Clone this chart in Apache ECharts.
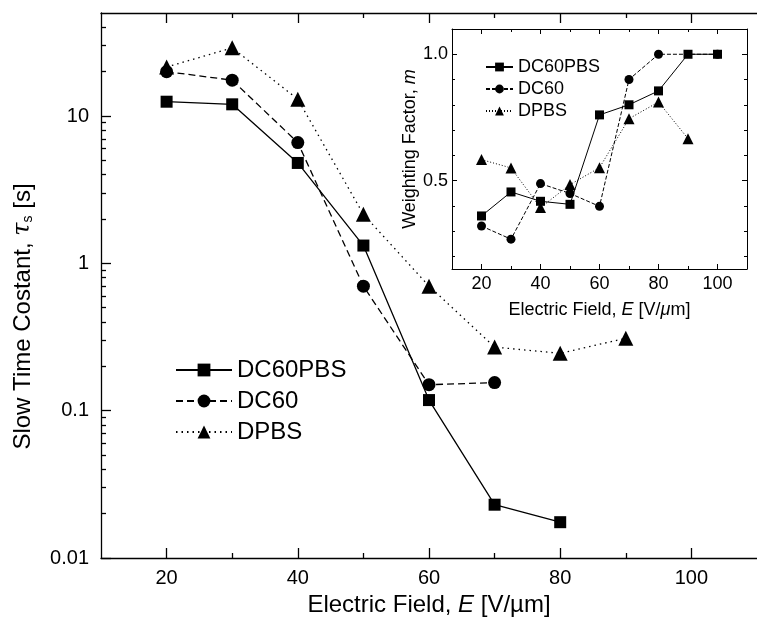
<!DOCTYPE html>
<html>
<head>
<meta charset="utf-8">
<script src="https://cdn.jsdelivr.net/npm/echarts@6/dist/echarts.min.js"></script>
<style>
  html, body { margin: 0; padding: 0; background: #fff; }
  #chart { width: 757px; height: 631px; }
</style>
</head>
<body>
<div id="chart"></div>
<script>
// main plot: slow time constant vs field
var fieldDC60PBS = [20, 30, 40, 50, 60, 70, 80];
var tauDC60PBS   = [12.5, 12, 4.8, 1.32, 0.118, 0.023, 0.0175];
var fieldDC60    = [20, 30, 40, 50, 60, 70];
var tauDC60      = [20, 17.5, 6.6, 0.7, 0.15, 0.155];
var fieldDPBS    = [20, 30, 40, 50, 60, 70, 80, 90];
var tauDPBS      = [21.5, 29, 13, 2.15, 0.7, 0.27, 0.245, 0.31];

// inset: weighting factor vs field
var insetFieldDC60PBS = [20, 30, 40, 50, 60, 70, 80, 90, 100];
var mDC60PBS          = [0.36, 0.455, 0.418, 0.406, 0.76, 0.80, 0.855, 1.0, 1.0];
var insetFieldDC60    = [20, 30, 40, 50, 60, 70, 80, 100];
var mDC60             = [0.32, 0.268, 0.488, 0.449, 0.398, 0.90, 1.0, 1.0];
var insetFieldDPBS    = [20, 30, 40, 50, 60, 70, 80, 90];
var mDPBS             = [0.583, 0.55, 0.393, 0.484, 0.551, 0.745, 0.811, 0.666];

// ticks
var xMajor = [20, 40, 60, 80, 100];
var xMinor = [30, 50, 70, 90];
var yMainMajor = [0.01, 0.1, 1, 10];
var yMainMinor = [0.02, 0.03, 0.04, 0.05, 0.06, 0.07, 0.08, 0.09,
                  0.2, 0.3, 0.4, 0.5, 0.6, 0.7, 0.8, 0.9,
                  2, 3, 4, 5, 6, 7, 8, 9, 20, 30, 40];
var yInsetMajor = [0.5, 1.0];
var yInsetMinor = [0.2, 0.3, 0.4, 0.6, 0.7, 0.8, 0.9];

var FONT = 'Liberation Sans';

function pairs(xs, ys) {
  return xs.map(function (x, i) { return [x, ys[i]]; });
}

function tickAxis(opt) {
  // one axis carrying only line/ticks (+ optional labels)
  var ax = {
    type: opt.type || 'value',
    gridIndex: opt.grid,
    position: opt.position,
    min: opt.min,
    max: opt.max,
    splitLine: { show: false },
    axisLine: { show: !!opt.line, onZero: false, lineStyle: { color: '#000', width: opt.lw } },
    axisTick: { show: true, inside: true, length: opt.len, customValues: opt.ticks,
                lineStyle: { color: '#000', width: opt.lw } },
    axisLabel: { show: false }
  };
  if (opt.labels) {
    ax.axisLabel = { show: true, customValues: opt.labels, color: '#000',
                     fontFamily: FONT, fontSize: opt.fs, margin: opt.margin,
                     formatter: opt.fmt };
  }
  return ax;
}

var chart = echarts.init(document.getElementById('chart'));

var xMainBottom = tickAxis({ grid: 0, position: 'bottom', min: 10, max: 110, line: true, lw: 1.3,
  len: 10, ticks: xMajor, labels: xMajor, fs: 20, margin: 10 });
xMainBottom.name = 'Electric Field, {i|E} [V/\u00b5m]';
xMainBottom.nameLocation = 'middle';
xMainBottom.nameGap = 34;
xMainBottom.nameTextStyle = { fontFamily: FONT, fontSize: 24, color: '#000',
  rich: { i: { fontFamily: FONT, fontSize: 24, fontStyle: 'italic', color: '#000' } } };

var yMainLeft = tickAxis({ type: 'log', grid: 0, position: 'left', min: 0.01, max: 50, line: true, lw: 1.3,
  len: 10, ticks: yMainMajor, labels: yMainMajor, fs: 20, margin: 12,
  fmt: function (v) { return { 0.01: '0.01', 0.1: '0.1', 1: '1', 10: '10' }[v] || ''; } });
yMainLeft.logBase = 10;
yMainLeft.name = 'Slow Time Costant, {t|\u03c4}{s|s} [s]';
yMainLeft.nameLocation = 'middle';
yMainLeft.nameGap = 66;
yMainLeft.nameTextStyle = { fontFamily: FONT, fontSize: 24, color: '#000', padding: [0, 62, 0, 0],
  rich: { t: { fontFamily: 'DejaVu Serif', fontSize: 24, fontStyle: 'italic', color: '#000' },
          s: { fontFamily: FONT, fontSize: 14, color: '#000', verticalAlign: 'bottom', padding: [10, 0, 0, 0] } } };

var yMainMinorAx = tickAxis({ type: 'log', grid: 0, position: 'left', min: 0.01, max: 50, lw: 1.3,
  len: 5, ticks: yMainMinor });
yMainMinorAx.logBase = 10;

var xInsetBottom = tickAxis({ grid: 1, position: 'bottom', min: 10, max: 110, line: true, lw: 1,
  len: 5, ticks: xMajor, labels: xMajor, fs: 18, margin: 6 });
xInsetBottom.name = 'Electric Field, {i|E} [V/{i|\u03bc}m]';
xInsetBottom.nameLocation = 'middle';
xInsetBottom.nameGap = 32;
xInsetBottom.nameTextStyle = { fontFamily: FONT, fontSize: 18, color: '#000',
  rich: { i: { fontFamily: FONT, fontSize: 18, fontStyle: 'italic', color: '#000' } } };

var yInsetLeft = tickAxis({ grid: 1, position: 'left', min: 0.15, max: 1.1, line: true, lw: 1,
  len: 5, ticks: yInsetMajor, labels: yInsetMajor, fs: 18, margin: 4,
  fmt: function (v) { return v.toFixed(1); } });
yInsetLeft.name = 'Weighting Factor, {i|m}';
yInsetLeft.nameLocation = 'middle';
yInsetLeft.nameGap = 32;
yInsetLeft.nameTextStyle = { fontFamily: FONT, fontSize: 18, color: '#000',
  rich: { i: { fontFamily: FONT, fontSize: 18, fontStyle: 'italic', color: '#000' } } };

var option = {
  backgroundColor: '#fff',
  animation: false,
  textStyle: { fontFamily: FONT, color: '#000' },
  grid: [
    { left: 101, top: 13, right: -11, bottom: 73 },
    { left: 452, top: 29, width: 295, height: 240, show: true, backgroundColor: '#fff', borderWidth: 0 }
  ],
  xAxis: [
    xMainBottom,
    tickAxis({ grid: 0, position: 'bottom', min: 10, max: 110, lw: 1.3, len: 5, ticks: xMinor }),
    tickAxis({ grid: 0, position: 'top', min: 10, max: 110, line: true, lw: 1.3, len: 10, ticks: xMajor }),
    tickAxis({ grid: 0, position: 'top', min: 10, max: 110, lw: 1.3, len: 5, ticks: xMinor }),
    xInsetBottom,
    tickAxis({ grid: 1, position: 'bottom', min: 10, max: 110, lw: 1, len: 3, ticks: xMinor }),
    tickAxis({ grid: 1, position: 'top', min: 10, max: 110, line: true, lw: 1, len: 5, ticks: xMajor }),
    tickAxis({ grid: 1, position: 'top', min: 10, max: 110, lw: 1, len: 3, ticks: xMinor })
  ],
  yAxis: [
    yMainLeft,
    yMainMinorAx,
    yInsetLeft,
    tickAxis({ grid: 1, position: 'left', min: 0.15, max: 1.1, lw: 1, len: 3, ticks: yInsetMinor }),
    tickAxis({ grid: 1, position: 'right', min: 0.15, max: 1.1, line: true, lw: 1, len: 5, ticks: yInsetMajor }),
    tickAxis({ grid: 1, position: 'right', min: 0.15, max: 1.1, lw: 1, len: 3, ticks: yInsetMinor })
  ],
  legend: [
    {
      data: ['DC60PBS', 'DC60', 'DPBS'],
      orient: 'vertical', left: 170, top: 353,
      itemWidth: 56, itemHeight: 16, itemGap: 7,
      textStyle: { fontFamily: FONT, fontSize: 24, color: '#000' },
      selectedMode: false
    },
    {
      data: ['DC60PBS ', 'DC60 ', 'DPBS '],
      formatter: function (n) { return n.trim(); },
      orient: 'vertical', left: 480, top: 53,
      itemWidth: 27, itemHeight: 11, itemGap: 4,
      textStyle: { fontFamily: FONT, fontSize: 18, color: '#000' },
      selectedMode: false
    }
  ],
  series: [
    { name: 'DC60PBS', type: 'line', xAxisIndex: 0, yAxisIndex: 0,
      data: pairs(fieldDC60PBS, tauDC60PBS), symbol: 'rect', symbolSize: 12,
      itemStyle: { color: '#000' }, lineStyle: { color: '#000', width: 1.3, type: 'solid' } },
    { name: 'DC60', type: 'line', xAxisIndex: 0, yAxisIndex: 0,
      data: pairs(fieldDC60, tauDC60), symbol: 'circle', symbolSize: 13,
      itemStyle: { color: '#000' }, lineStyle: { color: '#000', width: 1.3, type: [7, 4] } },
    { name: 'DPBS', type: 'line', xAxisIndex: 0, yAxisIndex: 0,
      data: pairs(fieldDPBS, tauDPBS), symbol: 'triangle', symbolSize: 15,
      itemStyle: { color: '#000' }, lineStyle: { color: '#000', width: 1.3, type: [1.5, 4] } },
    { name: 'DC60PBS ', type: 'line', xAxisIndex: 4, yAxisIndex: 2,
      data: pairs(insetFieldDC60PBS, mDC60PBS), symbol: 'rect', symbolSize: 9,
      itemStyle: { color: '#000' }, lineStyle: { color: '#000', width: 1, type: 'solid' } },
    { name: 'DC60 ', type: 'line', xAxisIndex: 4, yAxisIndex: 2,
      data: pairs(insetFieldDC60, mDC60), symbol: 'circle', symbolSize: 9,
      itemStyle: { color: '#000' }, lineStyle: { color: '#000', width: 1, type: [4, 2] } },
    { name: 'DPBS ', type: 'line', xAxisIndex: 4, yAxisIndex: 2,
      data: pairs(insetFieldDPBS, mDPBS), symbol: 'triangle', symbolSize: 11,
      itemStyle: { color: '#000' }, lineStyle: { color: '#000', width: 1, type: [1, 2] } }
  ]
};

chart.setOption(option);
</script>
</body>
</html>
